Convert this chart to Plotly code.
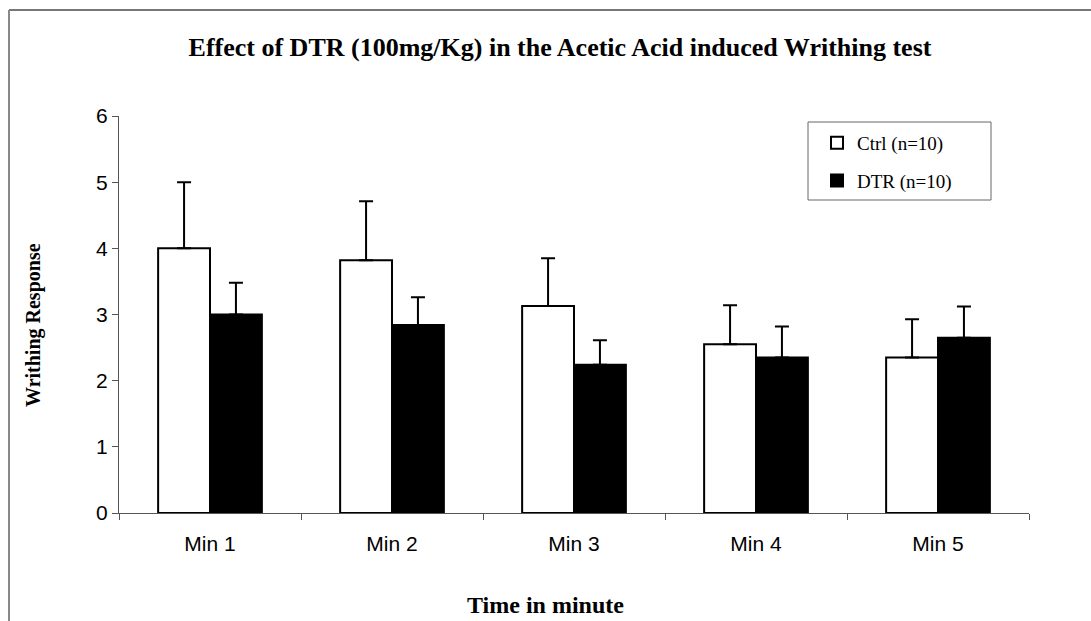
import plotly.graph_objects as go

# Writhing counts per minute (mean and upper SEM)
minutes = ["Min 1", "Min 2", "Min 3", "Min 4", "Min 5"]
ctrl_mean = [4.0, 3.82, 3.13, 2.55, 2.35]
ctrl_err = [1.0, 0.89, 0.72, 0.59, 0.58]
dtr_mean = [3.0, 2.84, 2.24, 2.35, 2.65]
dtr_err = [0.48, 0.42, 0.37, 0.47, 0.47]
y_ticks = [0, 1, 2, 3, 4, 5, 6]

W, H = 1091, 621
L, R, T, B = 119, 62, 116, 108
pw, ph = W - L - R, H - T - B


def px(x):
    return (x - L) / pw


def py(y):
    return (H - B - y) / ph


serif = "Liberation Serif, Times New Roman, serif"
sans = "Liberation Sans, Arial, sans-serif"

fig = go.Figure()
fig.add_trace(go.Bar(
    x=minutes, y=ctrl_mean, name="Ctrl (n=10)", legendgroup="a",
    marker=dict(color="white", line=dict(color="black", width=2)),
    error_y=dict(type="data", array=ctrl_err, arrayminus=[0] * len(ctrl_err),
                 symmetric=False, color="black", thickness=2, width=7),
))
fig.add_trace(go.Bar(
    x=minutes, y=dtr_mean, name="DTR (n=10)", legendgroup="b",
    marker=dict(color="black", line=dict(color="black", width=2)),
    error_y=dict(type="data", array=dtr_err, arrayminus=[0] * len(dtr_err),
                 symmetric=False, color="black", thickness=2, width=7),
))

fig.update_layout(
    width=W, height=H,
    margin=dict(l=L, r=R, t=T, b=B),
    paper_bgcolor="white", plot_bgcolor="white",
    barmode="group", bargap=0.43, bargroupgap=0,
    title=dict(text="<b>Effect of DTR (100mg/Kg) in the Acetic Acid induced Writhing test</b>",
               x=560 / W, xanchor="center", y=1 - 47 / H, yanchor="middle",
               font=dict(family=serif, size=26, color="black")),
    legend=dict(x=px(817), y=py(124), xanchor="left", yanchor="top",
                bgcolor="rgba(0,0,0,0)", borderwidth=0,
                font=dict(family=serif, size=19, color="black"),
                traceorder="grouped", tracegroupgap=10,
                itemwidth=30),
    showlegend=True,
)
fig.update_xaxes(
    showline=True, linecolor="#555", linewidth=1,
    ticks="outside", ticklen=6, tickcolor="#555", tickson="boundaries",
    tickfont=dict(family=sans, size=21, color="black"),
    ticklabelstandoff=12,
    showgrid=False, zeroline=False,
)
fig.update_yaxes(
    range=[0, 6], tickvals=y_ticks, showline=True, linecolor="#555", linewidth=1,
    ticks="outside", ticklen=6, tickcolor="#555",
    tickfont=dict(family=sans, size=21, color="black"),
    showgrid=False, zeroline=False,
)

# legend frame
fig.add_shape(type="rect", xref="paper", yref="paper",
              x0=px(808), x1=px(991), y0=py(122), y1=py(200),
              line=dict(color="#666", width=1), fillcolor="white", layer="below")

# axis titles
fig.add_annotation(text="<b>Writhing Response</b>", textangle=-90,
                   xref="paper", yref="paper", x=px(33), y=py(325),
                   xanchor="center", yanchor="middle",
                   showarrow=False, font=dict(family=serif, size=20, color="black"))
fig.add_annotation(text="<b>Time in minute</b>",
                   xref="paper", yref="paper", x=px(545), y=py(605),
                   xanchor="center", yanchor="middle",
                   showarrow=False, font=dict(family=serif, size=24, color="black"))

# outer frame lines
fig.add_shape(type="line", xref="paper", yref="paper",
              x0=px(9), x1=px(W + 5), y0=py(10), y1=py(10),
              line=dict(color="#777", width=2))
fig.add_shape(type="line", xref="paper", yref="paper",
              x0=px(9), x1=px(9), y0=py(10), y1=py(H + 5),
              line=dict(color="#888", width=2))

fig.write_html("out.html")
